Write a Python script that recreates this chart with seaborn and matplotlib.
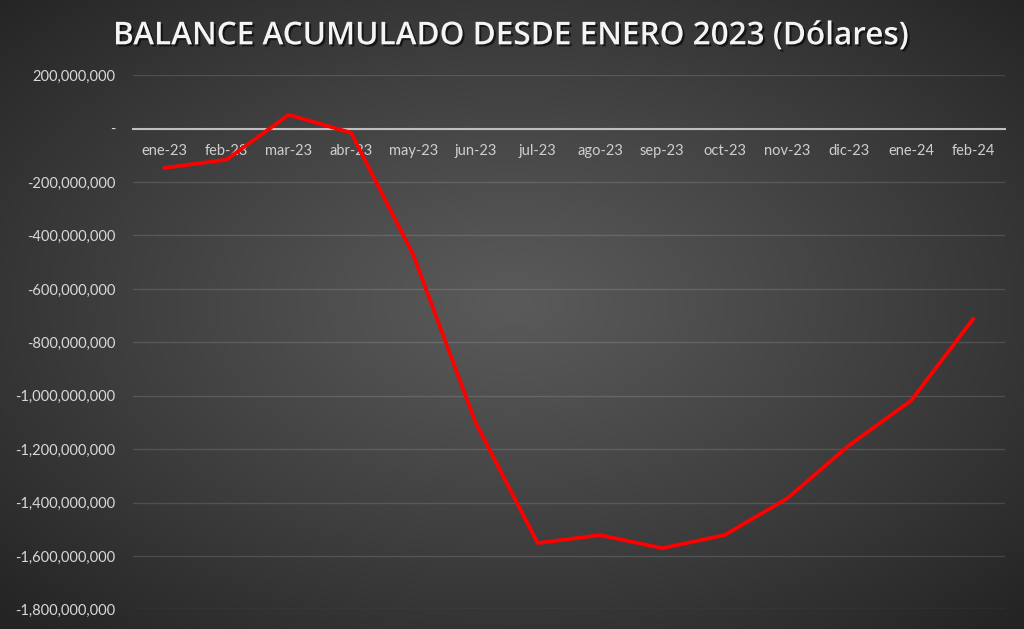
import numpy as np
import pandas as pd
import matplotlib
matplotlib.use("Agg")
import matplotlib.pyplot as plt
import matplotlib.patheffects as pe
from matplotlib.ticker import FuncFormatter, MultipleLocator
import seaborn as sns

# ---- data ----
months = ["ene-23", "feb-23", "mar-23", "abr-23", "may-23", "jun-23", "jul-23",
          "ago-23", "sep-23", "oct-23", "nov-23", "dic-23", "ene-24", "feb-24"]
balance = [-147e6, -116e6, 52e6, -15e6, -472e6, -1100e6, -1552e6,
           -1522e6, -1571e6, -1522e6, -1386e6, -1186e6, -1018e6, -711e6]
title = "BALANCE ACUMULADO DESDE ENERO 2023 (Dólares)"

df = pd.DataFrame({"mes": months, "balance": balance})

sns.set_theme(style="white")
plt.rcParams["font.family"] = ["Lato", "DejaVu Sans"]

fig = plt.figure(figsize=(10.24, 6.29), dpi=100)

# radial gradient background
bg = fig.add_axes([0, 0, 1, 1], zorder=-10)
h, w = 629, 1024
yy, xx = np.mgrid[0:h, 0:w]
cx, cy = 0.5 * w, 0.48 * h
r = np.sqrt(((xx - cx) / (0.5 * w)) ** 2 + ((yy - cy) / (0.5 * h)) ** 2) / np.sqrt(2)
r = np.clip(r, 0, 1)
c_in, c_out = 0x5a / 255, 0x24 / 255
img = c_in + (c_out - c_in) * r ** 1.1
bg.imshow(np.dstack([img, img, img]), aspect="auto", extent=[0, 1, 0, 1])
bg.axis("off")

ax = fig.add_axes([0.130, 0.0313, 0.851, 0.8490])
ax.patch.set_alpha(0)

sns.lineplot(data=df, x="mes", y="balance", sort=False, color="#ff0000",
             linewidth=2.7, ax=ax)

ax.set_xlim(-0.5, len(months) - 0.5)
ax.set_ylim(-1.8e9, 2e8)
ax.yaxis.set_major_locator(MultipleLocator(2e8))

def fmt(v, pos):
    if abs(v) < 1:
        return "-"
    return f"{v:,.0f}"

ax.yaxis.set_major_formatter(FuncFormatter(fmt))
ax.grid(axis="y", color="white", alpha=0.13, linewidth=1.0)
ax.grid(axis="x", visible=False)
for s in ["top", "right", "left"]:
    ax.spines[s].set_visible(False)
ax.spines["bottom"].set_position(("data", 0))
ax.spines["bottom"].set_color("#bfbfbf")
ax.spines["bottom"].set_linewidth(1.5)
ax.spines["bottom"].set_zorder(1)

ax.tick_params(axis="x", length=0, pad=11, labelsize=10.5, labelcolor="#cfcfcf")
ax.tick_params(axis="y", length=0, pad=13, labelsize=10.5, labelcolor="#d9d9d9")
ax.set_xlabel("")
ax.set_ylabel("")

fig.text(0.499, 0.943, title, ha="center", va="center", color="#f4f4f4",
         fontsize=22.7, fontweight="semibold", family=["Open Sans", "DejaVu Sans"],
         path_effects=[pe.withSimplePatchShadow(offset=(1.5, -1.5),
                                                shadow_rgbFace="black", alpha=0.6)])

fig.savefig("out.png", dpi=100)
